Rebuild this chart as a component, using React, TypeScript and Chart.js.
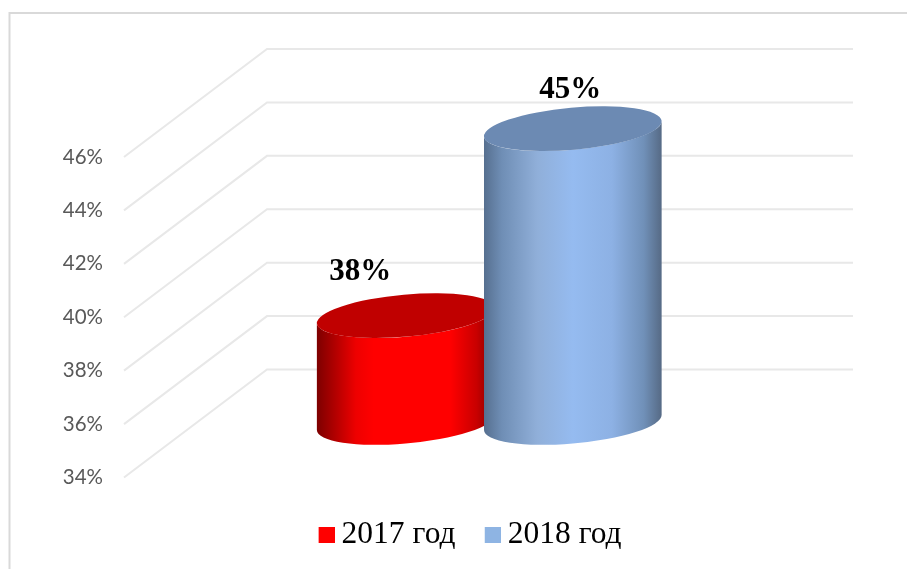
import React, { useEffect, useRef } from "react";
import { Chart, registerables } from "chart.js";

Chart.register(...registerables);

const categories = ["Доля"];
const seriesNames = ["2017 год", "2018 год"];
const series2017 = [38];
const series2018 = [45];
const seriesColors = ["#ff0000", "#8eb4e3"];
const axisMin = 34;
const axisMax = 46;
const axisStep = 2;

const capColors = ["#c00000", "#6c8ab3"];
const bodyStops: [number, string][][] = [
  [[0, "#7d0000"], [0.1, "#b00000"], [0.22, "#ee0000"], [0.32, "#ff0000"], [0.75, "#ff0000"], [0.9, "#c80000"], [1, "#800000"]],
  [[0, "#566f8f"], [0.1, "#6f8eb5"], [0.3, "#90afd9"], [0.5, "#95bbf0"], [0.72, "#8db1e4"], [0.9, "#7090b8"], [1, "#566a85"]],
];

const DEPTH_X = 143;
const DEPTH_Y = 108;
const CYL_LIFT = 55;
const TILT = (-5.1 * Math.PI) / 180;
const MINOR = 21;
const labelOffsets = [[-46, -44], [-3, -39]];

function drawCylinder(chart: any, i: number) {
  const { ctx, scales } = chart;
  const bar = chart.getDatasetMeta(i).data[0];
  const halfW = bar.width / 2;
  const major = halfW * 1.0035;
  const cx = bar.x + DEPTH_X / 2 - 0.5;
  const topY = bar.y - CYL_LIFT;
  const botY = scales.y.getPixelForValue(axisMin) - CYL_LIFT;
  const tr = Math.atan(-(MINOR / major) * Math.tan(TILT));
  const grad = ctx.createLinearGradient(cx - halfW, 0, cx + halfW, 0);
  bodyStops[i].forEach(([o, c]) => grad.addColorStop(o, c));
  ctx.save();
  ctx.fillStyle = grad;
  ctx.beginPath();
  ctx.ellipse(cx, botY, major, MINOR, TILT, tr, tr + Math.PI);
  ctx.ellipse(cx, topY, major, MINOR, TILT, tr + Math.PI, tr, true);
  ctx.closePath();
  ctx.fill();
  ctx.fillStyle = capColors[i];
  ctx.beginPath();
  ctx.ellipse(cx, topY, major, MINOR, TILT, 0, Math.PI * 2);
  ctx.fill();
  ctx.restore();
}

const scene = {
  id: "scene",
  beforeLayout(chart: any) {
    if (chart.legend) {
      chart.legend.afterFit = function () {
        this.height = 80;
      };
    }
  },
  afterLayout(chart: any) {
    const lg = chart.legend;
    if (lg) {
      lg.left = 40;
      lg.right = 907;
      lg.top = 483;
    }
  },
  beforeDraw(chart: any) {
    const { ctx, width, height } = chart;
    ctx.save();
    ctx.strokeStyle = "#d9d9d9";
    ctx.lineWidth = 2;
    ctx.beginPath();
    ctx.moveTo(9.5, height);
    ctx.lineTo(9.5, 13);
    ctx.lineTo(width, 13);
    ctx.stroke();
    ctx.restore();
  },
  beforeDatasetsDraw(chart: any) {
    const { ctx, chartArea, scales } = chart;
    const y = scales.y;
    ctx.save();
    ctx.strokeStyle = "#e8e8e8";
    ctx.lineWidth = 2;
    y.ticks.forEach((_: any, i: number) => {
      const py = y.getPixelForTick(i);
      ctx.beginPath();
      ctx.moveTo(chartArea.left, py);
      ctx.lineTo(chartArea.left + DEPTH_X, py - DEPTH_Y);
      ctx.lineTo(853, py - DEPTH_Y);
      ctx.stroke();
    });
    ctx.restore();
    chart.data.datasets.forEach((_: any, i: number) => drawCylinder(chart, i));
  },
  beforeDatasetDraw() {
    return false;
  },
  afterDatasetsDraw(chart: any) {
    const { ctx } = chart;
    ctx.save();
    ctx.fillStyle = "#000";
    ctx.font = 'bold 31px "Liberation Serif"';
    ctx.textAlign = "center";
    ctx.textBaseline = "middle";
    chart.data.datasets.forEach((ds: any, i: number) => {
      const bar = chart.getDatasetMeta(i).data[0];
      const cx = bar.x + DEPTH_X / 2 + labelOffsets[i][0];
      const cy = bar.y - CYL_LIFT + labelOffsets[i][1];
      ctx.fillText(`${ds.data[0]}%`, cx, cy);
    });
    ctx.restore();
  },
};

function swatch(color: string) {
  const c = document.createElement("canvas");
  c.width = 18;
  c.height = 16;
  const g = c.getContext("2d")!;
  g.fillStyle = color;
  g.fillRect(2, 0, 16, 16);
  return c;
}

export default function App() {
  const ref = useRef<HTMLCanvasElement>(null);
  useEffect(() => {
    const chart = new Chart(ref.current!, {
      type: "bar",
      data: {
        labels: categories,
        datasets: [
          { label: seriesNames[0], data: series2017, backgroundColor: seriesColors[0] },
          { label: seriesNames[1], data: series2018, backgroundColor: seriesColors[1] },
        ],
      },
      plugins: [scene],
      options: {
        animation: false,
        responsive: false,
        categoryPercentage: 0.568,
        barPercentage: 1.063,
        layout: { padding: { left: 34, right: 194.5, top: 157, bottom: 14 } },
        scales: {
          x: { display: false },
          y: {
            min: axisMin,
            max: axisMax,
            afterFit(s: any) {
              s.width = 90;
            },
            grid: { display: false },
            border: { display: false },
            ticks: {
              stepSize: axisStep,
              padding: 13,
              color: "#595959",
              font: { family: "Lato", size: 20.5 },
              callback: (v: any) => `${v}%`,
            },
          },
        },
        plugins: {
          tooltip: { enabled: false },
          legend: {
            position: "bottom",
            labels: {
              usePointStyle: true,
              boxWidth: 0.5,
              boxHeight: 16,
              padding: 36,
              color: "#000",
              font: { family: "Liberation Serif", size: 31.5 },
              generateLabels(c: any) {
                return Chart.defaults.plugins.legend.labels
                  .generateLabels(c)
                  .map((it: any, i: number) => ({ ...it, pointStyle: swatch(seriesColors[i]) }));
              },
            },
          },
        },
      },
    } as any);
    return () => chart.destroy();
  }, []);
  return (
    <div style={{ position: "fixed", left: 0, top: 0, width: 907, height: 569, background: "#fff" }}>
      <canvas ref={ref} width={907} height={569} style={{ display: "block", filter: "blur(0.4px)" }} />
    </div>
  );
}
